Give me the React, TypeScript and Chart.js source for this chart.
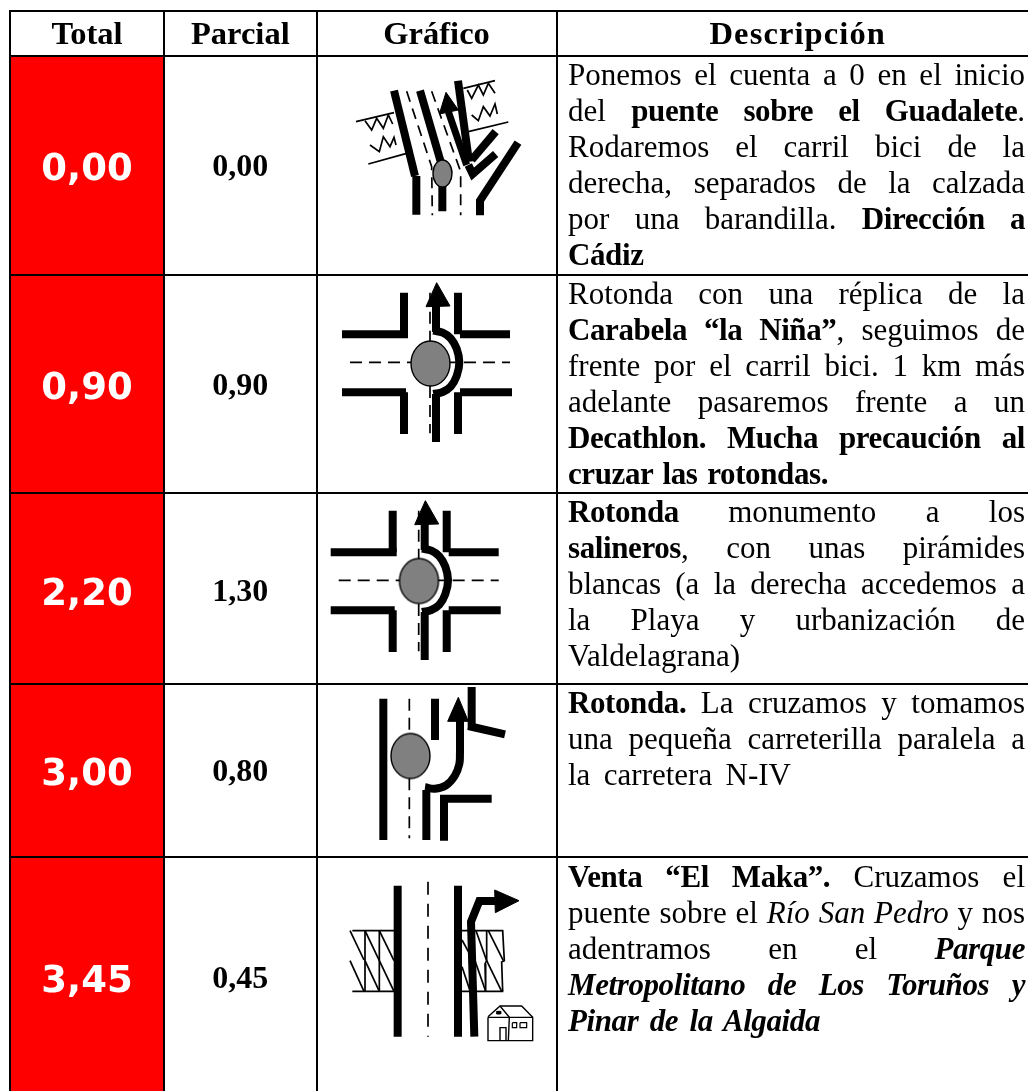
import React, { useEffect, useRef } from "react";
import { Chart, registerables } from "chart.js";

Chart.register(...registerables);

const HEADERS = ["Total", "Parcial", "Gráfico", "Descripción"];
const TOTALS = ["0,00", "0,90", "2,20", "3,00", "3,45"];
const PARTIALS = ["0,00", "0,90", "1,30", "0,80", "0,45"];
const COLUMN_EDGES = [10, 164, 316.7, 556.5];
const ROW_EDGES = [11, 55.7, 274.5, 492.5, 683.5, 857];
const TABLE_BOTTOM = 1091;
const VALUE_CENTRES = [166, 385, 591, 771, 978];

const DESC_1 = ["Ponemos el cuenta a 0 en el inicio", "del **puente sobre el Guadalete**.", "Rodaremos el carril bici de la", "derecha, separados de la calzada", "por una barandilla. **Dirección a**", "**Cádiz**"];
const DESC_2 = ["Rotonda con una réplica de la", "**Carabela “la Niña”**, seguimos de", "frente por el carril bici. 1 km más", "adelante pasaremos frente a un", "**Decathlon. Mucha precaución al**", "**cruzar las rotondas.**"];
const DESC_3 = ["**Rotonda** monumento a los", "**salineros**, con unas pirámides", "blancas (a la derecha accedemos a", "la Playa y urbanización de", "Valdelagrana)"];
const DESC_4 = ["**Rotonda.** La cruzamos y tomamos", "una pequeña carreterilla paralela a", "la carretera N-IV"];
const DESC_5 = ["**Venta “El Maka”.** Cruzamos el", "puente sobre el __Río San Pedro__ y nos", "adentramos en el ##Parque##", "##Metropolitano de Los Toruños y##", "##Pinar de la Algaida##"];
const DESCRIPTIONS = [DESC_1, DESC_2, DESC_3, DESC_4, DESC_5];
const LAST_LINE_ENDS = [645, 828, 748, 791, 820];
const DESC_TOPS = [57, 276, 494, 685, 859];

type P = number[];
type Stroke = { w: number; dash?: number[]; fill?: string; curve?: boolean; pts: P[] };

const THICK = 8;
const THIN = 1.7;

const GLYPH_BRIDGE: Stroke[] = [
  { w: THICK, pts: [[222, 122], [285, 378]] },
  { w: THICK, pts: [[289, 378], [289, 494]] },
  { w: THIN, dash: [11, 7], pts: [[260, 124], [335, 350], [337, 496]] },
  { w: THICK, pts: [[300, 122], [365, 345]] },
  { w: THICK, pts: [[367, 400], [367, 484]] },
  { w: THIN, dash: [11, 7], pts: [[335, 124], [422, 365], [422, 496]] },
  { w: THICK, pts: [[414, 92], [447, 335]] },
  { w: THICK, pts: [[445, 345], [458, 372], [527, 312]] },
  { w: THICK, pts: [[455, 330], [527, 245]] },
  { w: 7, pts: [[385, 185], [440, 345]] },
  { w: 1, fill: "#000", pts: [[378, 127], [358, 192], [415, 180], [378, 127]] },
  { w: THICK, pts: [[594, 278], [480, 452], [480, 496]] },
  { w: THIN, pts: [[108, 215], [222, 188]] },
  { w: THIN, pts: [[145, 342], [260, 310]] },
  { w: THIN, pts: [[135, 212], [155, 240], [170, 205], [190, 235], [205, 195], [218, 222]] },
  { w: THIN, pts: [[150, 285], [178, 305], [190, 260], [210, 290], [222, 262], [228, 285]] },
  { w: THIN, pts: [[430, 115], [525, 92]] },
  { w: THIN, pts: [[445, 245], [565, 216]] },
  { w: THIN, pts: [[442, 120], [455, 145], [475, 105], [490, 135], [505, 100], [525, 130]] },
  { w: THIN, pts: [[455, 195], [475, 212], [490, 170], [510, 198], [525, 162], [532, 192]] },
];

const GLYPH_ROUNDABOUT: Stroke[] = [
  { w: THICK, pts: [[252, 68], [252, 193]] },
  { w: THICK, pts: [[66, 193], [264, 193]] },
  { w: THICK, pts: [[66, 367], [258, 367]] },
  { w: THICK, pts: [[252, 367], [252, 492]] },
  { w: THICK, pts: [[414, 68], [414, 193]] },
  { w: THICK, pts: [[420, 193], [570, 193]] },
  { w: THICK, pts: [[420, 367], [576, 367]] },
  { w: THICK, pts: [[414, 367], [414, 492]] },
  { w: THIN, dash: [12, 7], pts: [[330, 68], [330, 220]] },
  { w: THIN, dash: [12, 7], pts: [[330, 348], [330, 490]] },
  { w: THIN, dash: [12, 7], pts: [[90, 277], [570, 277]] },
  { w: THICK, pts: [[348, 516], [348, 372]] },
  { w: THICK, curve: true, pts: [[340, 372], [368, 366], [392, 350], [410, 318], [418, 277], [410, 236], [392, 205], [368, 188], [340, 182]] },
  { w: THICK, pts: [[348, 186], [348, 100]] },
  { w: 1, fill: "#000", pts: [[350, 38], [318, 110], [390, 108], [350, 38]] },
];

const GLYPH_EXIT: Stroke[] = [
  { w: THICK, pts: [[190, 26], [190, 450]] },
  { w: THIN, dash: [12, 7], pts: [[268, 26], [268, 135]] },
  { w: THIN, dash: [12, 7], pts: [[268, 265], [268, 445]] },
  { w: THICK, pts: [[345, 26], [345, 150]] },
  { w: THICK, pts: [[455, -9], [455, 120]] },
  { w: THICK, pts: [[445, 108], [555, 133]] },
  { w: THICK, pts: [[319, 450], [319, 300]] },
  { w: THICK, curve: true, pts: [[315, 292], [345, 296], [378, 286], [404, 258], [418, 222], [420, 185]] },
  { w: THICK, pts: [[420, 190], [420, 90]] },
  { w: 1, fill: "#000", pts: [[415, 22], [383, 94], [445, 94], [415, 22]] },
  { w: THICK, pts: [[360, 326], [515, 326]] },
  { w: THICK, pts: [[372, 326], [372, 452]] },
];

const GLYPH_HOUSE: Stroke[] = [
  { w: THICK, pts: [[233, 137], [233, 590]] },
  { w: THIN, dash: [13, 9], pts: [[324, 125], [324, 590]] },
  { w: THICK, pts: [[414, 137], [414, 590]] },
  { w: THIN, pts: [[97, 272], [222, 272]] },
  { w: THIN, pts: [[97, 454], [222, 454]] },
  { w: THIN, pts: [[90, 272], [132, 360]] },
  { w: THIN, pts: [[90, 362], [132, 454]] },
  { w: THIN, pts: [[135, 272], [135, 454]] },
  { w: THIN, pts: [[135, 272], [178, 362]] },
  { w: THIN, pts: [[135, 362], [178, 454]] },
  { w: THIN, pts: [[178, 272], [178, 454]] },
  { w: THIN, pts: [[178, 272], [222, 362]] },
  { w: THIN, pts: [[178, 362], [222, 454]] },
  { w: THIN, pts: [[426, 272], [550, 272]] },
  { w: THIN, pts: [[426, 454], [550, 454]] },
  { w: THIN, pts: [[426, 300], [460, 362]] },
  { w: THIN, pts: [[426, 380], [450, 452]] },
  { w: THIN, pts: [[468, 272], [500, 362]] },
  { w: THIN, pts: [[465, 362], [497, 454]] },
  { w: THIN, pts: [[500, 272], [500, 362], [495, 372], [497, 454]] },
  { w: THIN, pts: [[505, 272], [550, 362]] },
  { w: THIN, pts: [[500, 362], [545, 454]] },
  { w: THIN, pts: [[548, 272], [553, 362], [545, 366], [548, 454]] },
  { w: THICK, pts: [[463, 590], [453, 245], [478, 183], [530, 183]] },
  { w: 1, fill: "#000", pts: [[597, 182], [524, 150], [526, 218], [597, 182]] },
  { w: 1.4, pts: [[504, 532], [638, 532], [638, 602], [504, 602], [504, 532]] },
  { w: 1.4, pts: [[504, 530], [540, 498], [605, 498], [638, 532]] },
  { w: 1.4, pts: [[540, 498], [568, 532], [565, 602]] },
  { w: 1.4, pts: [[540, 602], [540, 563], [558, 563], [558, 602]] },
  { w: 1.2, pts: [[577, 548], [590, 548], [590, 563], [577, 563], [577, 548]] },
  { w: 1.2, pts: [[600, 548], [620, 548], [620, 563], [600, 563], [600, 548]] },
  { w: 1, fill: "#000", pts: [[530, 514], [542, 514], [542, 522], [530, 522], [530, 514]] },
];

// Where each drawing sits on the page, its local units being a third of a scale unit.
const GLYPHS: { origin: number[]; strokes: Stroke[] }[] = [
  { origin: [320, 50], strokes: GLYPH_BRIDGE },
  { origin: [320, 270], strokes: GLYPH_ROUNDABOUT },
  { origin: [308.7, 488], strokes: GLYPH_ROUNDABOUT },
  { origin: [320, 690], strokes: GLYPH_EXIT },
  { origin: [320, 840], strokes: GLYPH_HOUSE },
];

// Grey islands: centre on the scales, then half-width and half-height in pixels.
const ISLANDS = [
  { x: 442.5, y: 173.5, rx: 9.5, ry: 13.5 },
  { x: 430.5, y: 363.5, rx: 19.5, ry: 22.5 },
  { x: 419, y: 581, rx: 19.5, ry: 22.5 },
  { x: 410.5, y: 756, rx: 19.5, ry: 22.5 },
];

function islandSprite(rx: number, ry: number) {
  const c = document.createElement("canvas");
  c.width = Math.ceil(rx * 2 + 4);
  c.height = Math.ceil(ry * 2 + 4);
  const g = c.getContext("2d")!;
  g.beginPath();
  g.ellipse(c.width / 2, c.height / 2, rx, ry, 0, 0, Math.PI * 2);
  g.fillStyle = "#808080";
  g.fill();
  g.lineWidth = 1.4;
  g.strokeStyle = "#000";
  g.stroke();
  return c;
}

const SERIF = '"Liberation Serif", serif';
const BODY_SIZE = 31;

function Runs({ text }: { text: string }) {
  const parts = text.split(/(\*\*.+?\*\*|__.+?__|##.+?##)/).filter(Boolean);
  return (
    <>
      {parts.map((p, i) => {
        const mark = p.slice(0, 2);
        const bold = mark === "**" || mark === "##";
        const italic = mark === "__" || mark === "##";
        const inner = bold || italic ? p.slice(2, -2) : p;
        return (
          <span
            key={i}
            style={{
              fontWeight: bold ? 700 : 400,
              fontStyle: italic ? "italic" : "normal",
              letterSpacing: bold ? -0.4 : 0,
            }}
          >
            {inner}
          </span>
        );
      })}
    </>
  );
}

export default function App() {
  const ref = useRef<HTMLCanvasElement>(null);

  useEffect(() => {
    document.body.style.margin = "0";
    const datasets: any[] = [];
    datasets.push({
      type: "bar",
      data: ROW_EDGES.slice(1).map((e, i) => ({ x: (COLUMN_EDGES[0] + COLUMN_EDGES[1]) / 2, y: [e, ROW_EDGES[i + 2] ?? TABLE_BOTTOM] })),
      backgroundColor: "#ff0000",
      borderWidth: 0,
      barThickness: COLUMN_EDGES[1] - COLUMN_EDGES[0],
    });
    GLYPHS.forEach(({ origin, strokes }) => {
      strokes.forEach((s) => {
        datasets.push({
          type: "scatter",
          showLine: true,
          data: s.pts.map(([x, y]) => ({ x: origin[0] + x / 3, y: origin[1] + y / 3 })),
          borderColor: "#000",
          borderWidth: s.w,
          borderDash: s.dash ?? [],
          borderJoinStyle: "miter",
          borderCapStyle: "butt",
          backgroundColor: s.fill ?? "transparent",
          fill: s.fill ? "shape" : false,
          pointRadius: 0,
          tension: s.curve ? 0.4 : 0,
        });
      });
    });
    ISLANDS.forEach((e) => {
      datasets.push({
        type: "scatter",
        showLine: false,
        data: [{ x: e.x, y: e.y }],
        pointStyle: islandSprite(e.rx, e.ry),
        pointRadius: 10,
      });
    });
    // Later entries paint on top.
    datasets.forEach((d, i) => (d.order = datasets.length - i));

    const chart = new Chart(ref.current!, {
      type: "scatter",
      data: { datasets },
      options: {
        animation: false,
        responsive: false,
        devicePixelRatio: 1,
        events: [],
        layout: { autoPadding: false, padding: { left: 9, top: 10, right: 0, bottom: 0 } },
        plugins: { legend: { display: false }, tooltip: { enabled: false }, title: { display: false } },
        scales: {
          x: {
            type: "linear",
            min: 9,
            max: 1028,
            offset: false,
            border: { display: false },
            grid: { color: "#000", lineWidth: 2, drawTicks: false, z: 1, offset: false },
            ticks: { display: false },
            afterBuildTicks: (s: any) => {
              s.ticks = COLUMN_EDGES.map((value) => ({ value }));
            },
          },
          y: {
            type: "linear",
            reverse: true,
            min: 10,
            max: 1091,
            border: { display: false },
            grid: { color: "#000", lineWidth: 2, drawTicks: false, z: 1 },
            ticks: { display: false },
            afterBuildTicks: (s: any) => {
              s.ticks = ROW_EDGES.map((value) => ({ value }));
            },
          },
        },
      } as any,
    });
    return () => chart.destroy();
  }, []);

  const centred = (left: number, right: number, top: number, height: number): React.CSSProperties => ({
    position: "absolute",
    left,
    width: right - left,
    top,
    height,
    lineHeight: height + "px",
    textAlign: "center",
    whiteSpace: "nowrap",
  });

  return (
    <div style={{ position: "absolute", left: 0, top: 0, width: 1028, height: 1091, overflow: "hidden", background: "#fff", fontFamily: SERIF, color: "#000" }}>
      <canvas ref={ref} width={1028} height={1091} style={{ position: "absolute", left: 0, top: 0, display: "block" }} />
      {HEADERS.map((h, i) => (
        <div
          key={h}
          style={{
            ...centred(COLUMN_EDGES[i], COLUMN_EDGES[i + 1] ?? 1039, 11, 44),
            fontWeight: 700,
            fontSize: 32.5,
            letterSpacing: i === 3 ? 1.1 : 0,
          }}
        >
          {h}
        </div>
      ))}
      {TOTALS.map((t, i) => (
        <div
          key={i}
          style={{
            ...centred(COLUMN_EDGES[0], COLUMN_EDGES[1], VALUE_CENTRES[i] - 28, 60),
            fontFamily: '"DejaVu Sans", sans-serif',
            fontWeight: 700,
            fontSize: 37,
            color: "#fff",
          }}
        >
          {t}
        </div>
      ))}
      {PARTIALS.map((t, i) => (
        <div
          key={i}
          style={{ ...centred(COLUMN_EDGES[1], COLUMN_EDGES[2], VALUE_CENTRES[i] - 31, 60), fontWeight: 700, fontSize: 32 }}
        >
          {t}
        </div>
      ))}
      {DESCRIPTIONS.map((lines, r) =>
        lines.map((line, l) => {
          const last = l === lines.length - 1;
          const right = last ? LAST_LINE_ENDS[r] : 1025;
          return (
            <div
              key={r + "-" + l}
              style={{
                position: "absolute",
                left: 568,
                width: right - 568,
                top: DESC_TOPS[r] + l * 36,
                height: 36,
                lineHeight: "36px",
                fontSize: BODY_SIZE,
                textAlign: "justify",
                textAlignLast: "justify",
              }}
            >
              <Runs text={line} />
            </div>
          );
        })
      )}
    </div>
  );
}
